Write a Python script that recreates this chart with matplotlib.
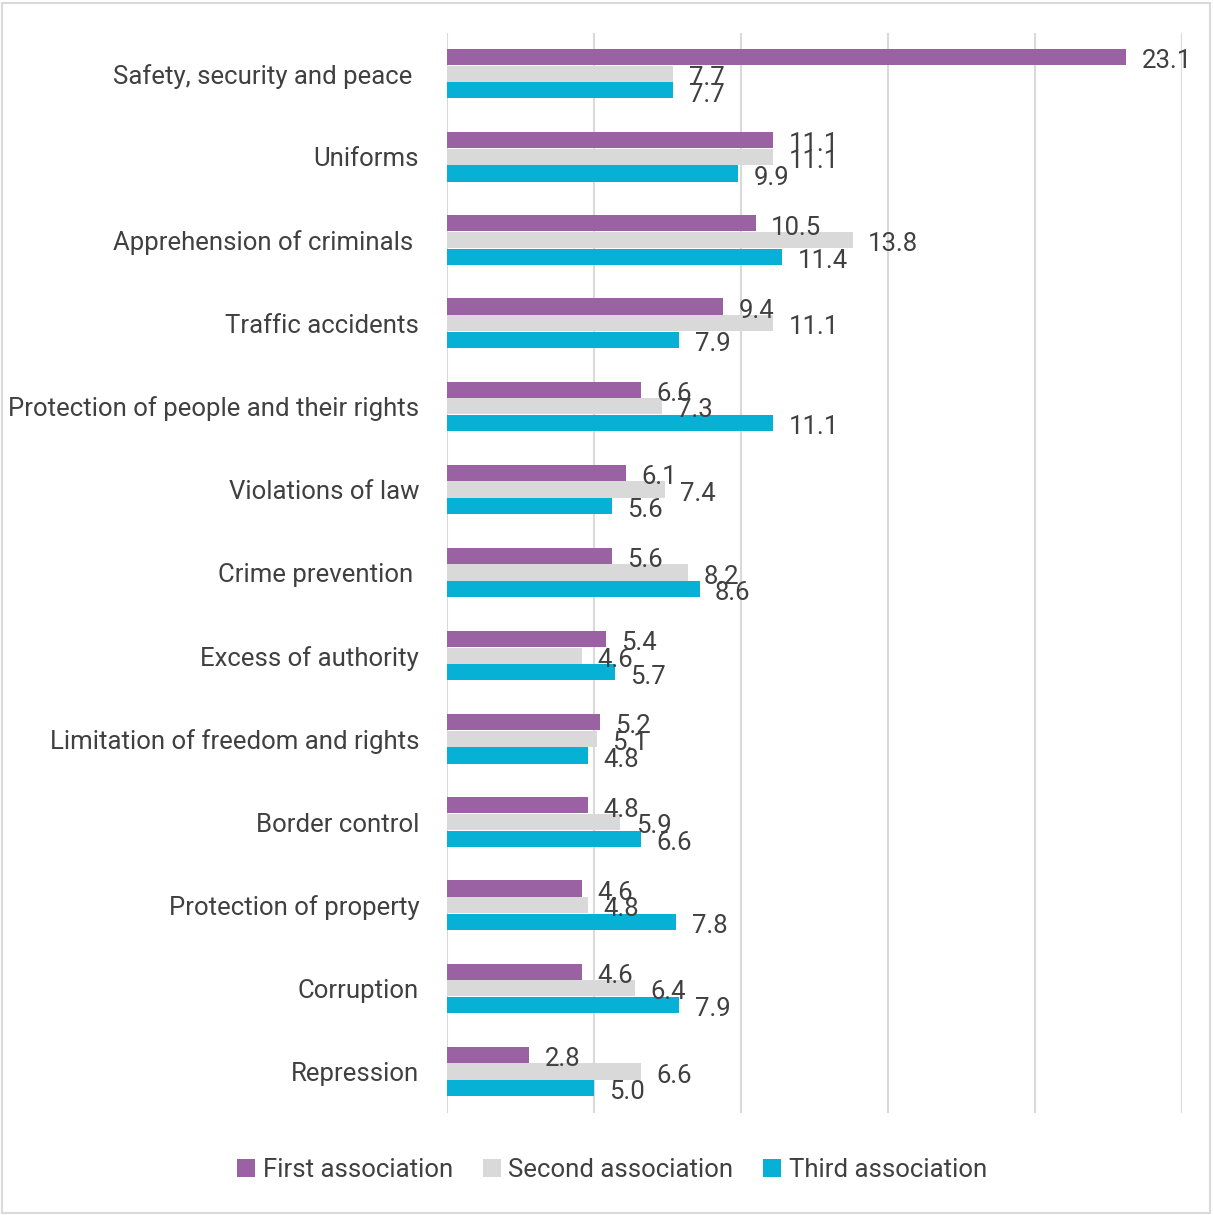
import matplotlib.pyplot as plt
from matplotlib.patches import Rectangle

# Data
categories = ["Safety, security and peace ", "Uniforms", "Apprehension of criminals ",
              "Traffic accidents", "Protection of people and their rights", "Violations of law",
              "Crime prevention ", "Excess of authority", "Limitation of freedom and rights",
              "Border control", "Protection of property", "Corruption", "Repression"]
first = [23.1, 11.1, 10.5, 9.4, 6.6, 6.1, 5.6, 5.4, 5.2, 4.8, 4.6, 4.6, 2.8]
second = [7.7, 11.1, 13.8, 11.1, 7.3, 7.4, 8.2, 4.6, 5.1, 5.9, 4.8, 6.4, 6.6]
third = [7.7, 9.9, 11.4, 7.9, 11.1, 5.6, 8.6, 5.7, 4.8, 6.6, 7.8, 7.9, 5.0]
series_names = ["First association", "Second association", "Third association"]
colors = ["#9b62a3", "#d9d9d9", "#07b1d6"]

plt.rcParams['font.family'] = ['Roboto', 'DejaVu Sans']
text_color = "#404040"
fs = 18.5

W, H = 1213, 1215
fig = plt.figure(figsize=(W / 100, H / 100), dpi=100)
ax = fig.add_axes([447 / W, 1 - 1113 / H, (1182 - 447) / W, (1113 - 33) / H])

n = len(categories)
bar_h = 0.195
offsets = [-0.2, 0.0, 0.2]
for vals, off, col, name in zip([first, second, third], offsets, colors, series_names):
    ys = [i + off for i in range(n)]
    ax.barh(ys, vals, height=bar_h, color=col, label=name, zorder=2)
    for y, v in zip(ys, vals):
        ax.annotate(f"{v:.1f}", (v, y), xytext=(11, -3), textcoords="offset points",
                    ha="left", va="center", fontsize=fs, color=text_color, zorder=3)

ax.set_xlim(0, 25)
ax.set_ylim(n - 0.5, -0.49)
ax.set_xticks([0, 5, 10, 15, 20, 25])
ax.set_xticklabels([])
ax.tick_params(axis="x", length=0)
ax.tick_params(axis="y", length=0, pad=20, labelsize=fs, labelcolor=text_color)
ax.set_yticks(range(n))
ax.set_yticklabels(categories)
ax.grid(axis="x", color="#d9d9d9", linewidth=1.5, zorder=0)
for s in ax.spines.values():
    s.set_visible(False)

leg = fig.legend(loc="center", bbox_to_anchor=(612 / W, 1 - 1170 / H), ncol=3, frameon=False,
                 fontsize=fs, handlelength=0.7, handleheight=0.7, handletextpad=0.3,
                 columnspacing=1.15)
for t in leg.get_texts():
    t.set_color(text_color)

fig.patches.append(Rectangle((2 / W, 2 / H), 1 - 5 / W, 1 - 5 / H, transform=fig.transFigure,
                             fill=False, edgecolor="#d9d9d9", linewidth=1.5))

fig.savefig("out.png", dpi=100, facecolor="white")
